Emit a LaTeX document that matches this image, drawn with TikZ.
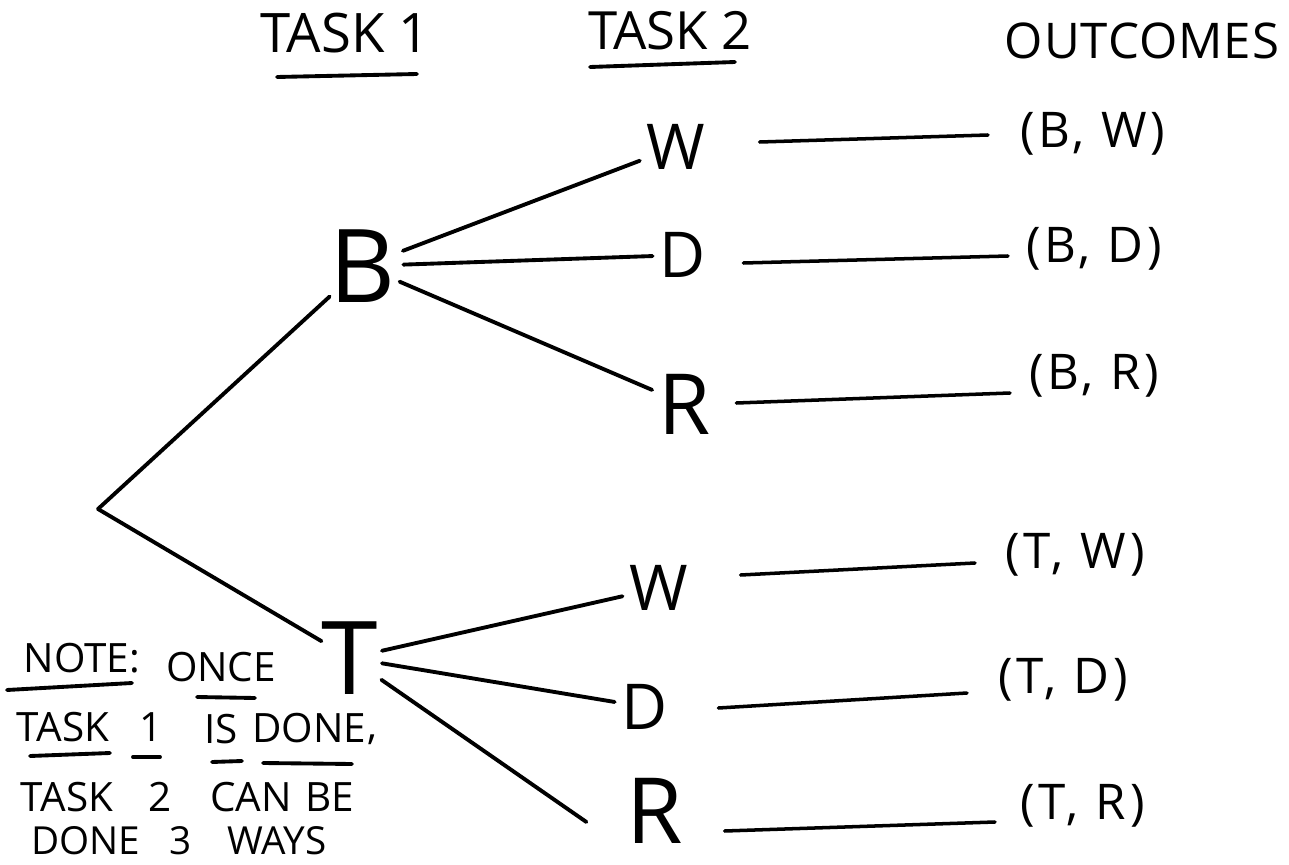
\documentclass[tikz,border=0pt]{standalone}
\usepackage{fontspec}
\setmainfont{Open Sans}
\usetikzlibrary{calc}
\begin{document}
\begin{tikzpicture}[x=0.02cm,y=-0.02cm, line cap=round,
  letter/.style={inner sep=0pt, font=\fontsize{#1}{#1}\selectfont},
  outc/.style={font=\fontsize{28}{28}\selectfont\addfontfeatures{LetterSpace=8}, inner sep=0pt, anchor=west},
  head/.style={font=\fontsize{#1}{#1}\selectfont, inner sep=0pt},
  note/.style={font=\fontsize{23}{23}\selectfont, inner sep=0pt},
  branch/.style={line width=2.2pt},
  link/.style={line width=2pt},
  uline/.style={line width=2.2pt}]
\useasboundingbox (0,0) rectangle (1289,865);
\fill[white] (0,0) rectangle (1289,865);

% headers
\node[head=31] (h1) at (345,33) {TASK 1};
\node[head=30] (h2) at (670,31) {TASK 2};
\node[head=28, font=\fontsize{28}{28}\selectfont\addfontfeatures{LetterSpace=2}] (h3) at (1142,41) {OUTCOMES};
\draw[uline] (277,77) -- (417,74);
\draw[uline] (590,67) -- (735,62);

% tree
\coordinate (root) at (98,509);
\node[letter=58] (B) at (363,266) {B};
\node[letter=58] (T) at (350,658) {T};
\node[letter=36] (W1) at (676,147) {W};
\node[letter=36] (D1) at (683,255) {D};
\node[letter=48] (R1) at (685,404) {R};
\node[letter=36] (W2) at (659,588) {W};
\node[letter=36] (D2) at (645,707) {D};
\node[letter=52] (R2) at (655,811) {R};

\draw[branch] (root) -- (B);
\draw[branch] (root) -- (T);
\draw[branch, shorten <=4pt, shorten >=4pt] (B) -- (W1);
\draw[branch, shorten <=4pt, shorten >=4pt] (B) -- (D1);
\draw[branch, shorten <=2pt, shorten >=4pt] (B) -- (R1);
\draw[branch, shorten <=2pt, shorten >=4pt] (T) -- (W2);
\draw[branch, shorten <=2pt, shorten >=4pt] (T) -- (D2);
\draw[branch, shorten <=2pt] (T) -- ($(R2.west)+(-40,11)$);

% outcomes
\node[outc] (BW) at (1020,134) {(B, W)};
\node[outc] (BD) at (1026,249) {(B, D)};
\node[outc] (BR) at (1029,376) {(B, R)};
\node[outc] (TW) at (1005,555) {(T, W)};
\node[outc] (TD) at (998,680) {(T, D)};
\node[outc] (TR) at (1020,806) {(T, R)};

\draw[link] ($(W1.east)+(54,-5)$) -- ($(BW.west)+(-32,1)$);
\draw[link] ($(D1.east)+(37,8)$) -- ($(BD.west)+(-18,7)$);
\draw[link] ($(R1.east)+(25,-1)$) -- ($(BR.west)+(-19,17)$);
\draw[link] ($(W2.east)+(52,-13)$) -- ($(TW.west)+(-30,8)$);
\draw[link] ($(D2.east)+(50,1)$) -- ($(TD.west)+(-31,13)$);
\draw[link] ($(R2.east)+(41,20)$) -- ($(TR.west)+(-25,16)$);

% note
\node[note] (n1) at (82,658) {NOTE:};
\node[note] (n2) at (221,667) {ONCE};
\node[note] (n3) at (63,727) {TASK};
\node[note] (n4) at (151,727) {1};
\node[note] (n5) at (221,729) {IS};
\node[note] (n6) at (309,728) {DONE};
\node[note] (n6c) at (372,740) {,};
\node[note] (n7) at (67,797) {TASK};
\node[note] (n8) at (160,797) {2};
\node[note] (n9) at (251,797) {CAN};
\node[note] (n10) at (330,797) {BE};
\node[note, font=\fontsize{22}{22}\selectfont] (n11) at (86,841) {DONE};
\node[note, font=\fontsize{22}{22}\selectfont] (n12) at (181,841) {3};
\node[note, font=\fontsize{22}{22}\selectfont] (n13) at (277,841) {WAYS};
\draw[uline] (7,690) -- (132,683);
\draw[uline] (197,697) -- (255,698);
\draw[uline] (30,756) -- (110,753);
\draw[uline] (133,757) -- (160,757);
\draw[uline] (212,762) -- (242,761);
\draw[uline] (263,763) -- (352,764);
\end{tikzpicture}
\end{document}
